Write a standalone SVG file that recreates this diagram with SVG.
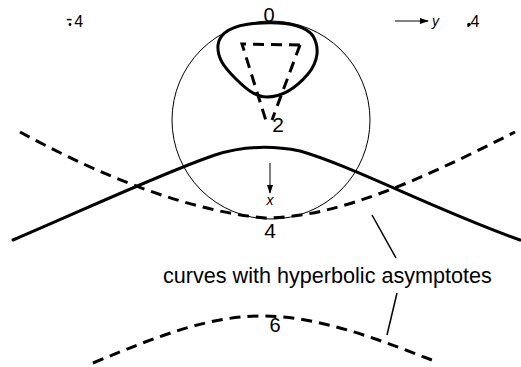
<svg xmlns="http://www.w3.org/2000/svg" width="521" height="367" viewBox="0 0 521 367">
<style>
.lbl{font-family:"Liberation Sans",Arial,sans-serif;fill:#000}
.ax{font-family:"Liberation Sans",Arial,sans-serif;font-style:italic;fill:#000;font-size:14px}
.thin{fill:none;stroke:#000;stroke-width:1}
.solid{fill:none;stroke:#000;stroke-width:3;stroke-linecap:round}
.dash{fill:none;stroke:#000;stroke-width:3;stroke-dasharray:11 7}
.lead{fill:none;stroke:#000;stroke-width:1.5}
</style>
<defs>
<marker id="ah" markerWidth="9" markerHeight="6" refX="8" refY="3" orient="auto" markerUnits="userSpaceOnUse">
<path d="M0,0 L9,3 L0,6 Z" fill="#000"/>
</marker>
</defs>
<rect width="521" height="367" fill="#fff"/>
<g id="circle"><circle cx="271" cy="120" r="99" class="thin"/></g>
<g id="loop"><path class="solid" stroke-width="3.5" d="M262,23 C285,22 305,25 313,36 C320,48 318,62 308,74 C296,88 282,97 267,97 C255,97 245,88 235,78 C224,67 217,58 218,45 C220,30 237,24 262,23 Z"/></g>
<g id="triangle"><path class="dash" stroke-width="2.5" stroke-dasharray="9 6" d="M300,45 L242,44 L267,124 M300,45 L272,120"/></g>
<g id="solid-curve"><path class="solid" d="M13,240 C90,207 170,170 215,155 C240,147 270,145 300,151 C350,165 440,212 520,240"/></g>
<g id="upper-dashed"><path class="dash" d="M20,132 C90,170 180,210 265,218 C340,218 430,175 515,132"/></g>
<g id="lower-dashed"><path class="dash" d="M93,363 C160,335 210,316 262,316 C320,316 380,340 437,362"/></g>
<g id="connectors">
<line class="thin" x1="395" y1="21" x2="428" y2="21" marker-end="url(#ah)"/>
<line class="thin" x1="270" y1="163" x2="270" y2="193" marker-end="url(#ah)"/>
<line class="lead" x1="372" y1="215" x2="396" y2="258"/>
<line class="lead" x1="397" y1="293" x2="387" y2="335"/>
</g>
<g id="labels">
<text class="lbl" x="269" y="22" font-size="20" text-anchor="middle">0</text>
<text class="lbl" x="278" y="132" font-size="21" text-anchor="middle">2</text>
<text class="lbl" x="270" y="238" font-size="21" text-anchor="middle">4</text>
<text class="lbl" x="275" y="332" font-size="20" text-anchor="middle">6</text>
<text class="lbl" x="66" y="27" font-size="16"><tspan dy="-2" font-size="19">-</tspan><tspan dy="2" dx="2">4</tspan></text>
<circle cx="70" cy="24.5" r="1.4" fill="#000"/>
<text class="lbl" x="466" y="27" font-size="16">.4</text>
<circle cx="469" cy="24.5" r="1.8" fill="#000"/>
<text class="ax" x="432" y="26">y</text>
<text class="ax" x="270" y="205" text-anchor="middle">x</text>
<text class="lbl" x="163" y="283" font-size="21.6">curves with hyperbolic asymptotes</text>
</g>
</svg>
